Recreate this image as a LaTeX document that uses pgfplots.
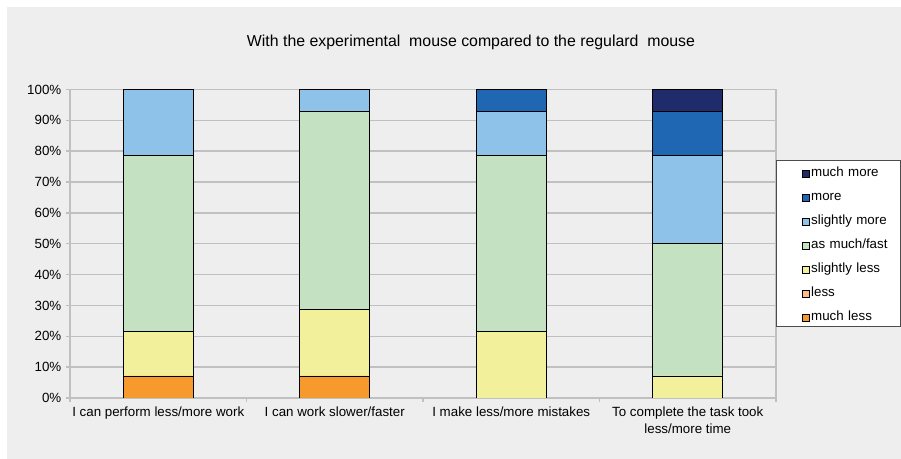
\documentclass[border=0pt]{standalone}
\usepackage{pgfplots}
\pgfplotsset{compat=1.18}
\usepackage{fontspec}
\setmainfont{Liberation Sans}
\definecolor{bg}{HTML}{EEEEEE}
\definecolor{gridgray}{HTML}{C0C0C0}
\definecolor{muchmore}{HTML}{202B6B}
\definecolor{more}{HTML}{1F66B3}
\definecolor{slmore}{HTML}{8EC2E9}
\definecolor{asmuch}{HTML}{C4E2C2}
\definecolor{slless}{HTML}{F2F09A}
\definecolor{less}{HTML}{F9BE8C}
\definecolor{muchless}{HTML}{F69A2E}
\pgfplotsset{
  mybar/.style={fill=#1, draw=black, line width=0.6pt,
    legend image code/.code={\path[draw=none,fill=none] (0pt,0pt) -- (25.2pt,0pt); \draw[fill=#1, draw=black, line width=0.4pt] (18.5pt,-4.35pt) rectangle (23.7pt,0.85pt);}}
}
\begin{document}
\begin{tikzpicture}
\useasboundingbox (0pt,0pt) rectangle (675.75pt,344.25pt);
\fill[white] (-5pt,-5pt) rectangle (680pt,350pt);
\fill[bg] (5.25pt,-5pt) rectangle (680pt,339pt);
\node[font=\fontsize{11.9}{13.5}\selectfont] at (353.25pt,312.75pt) {With the experimental\ \ mouse\ compared to the regulard\ \ mouse};
\begin{axis}[
  at={(52.5pt,45.75pt)}, anchor=south west,
  scale only axis, width=529.5pt, height=231.4pt,
  ybar stacked, bar width=52.5pt,
  xmin=-0.5, xmax=3.5, ymin=0, ymax=100,
  xtick={0,1,2,3},
  xticklabels={I can perform less/more work, I can work slower/faster, I make less/more mistakes, {To complete the task took\\less/more time}},
  xticklabel style={align=center, font=\fontsize{10}{12.5}\selectfont},
  x tick style={draw=none},
  minor xtick={-0.5,0.5,1.5,2.5,3.5},
  minor x tick style={draw=gridgray, line width=1pt},
  ytick={0,10,...,100},
  yticklabel={\pgfmathprintnumber{\tick}\%},
  yticklabel style={font=\fontsize{10}{12}\selectfont},
  /pgf/number format/assume math mode=true,
  tick align=outside, major tick length=3pt, minor tick length=3pt,
  xtick pos=bottom, ytick pos=left,
  y tick style={draw=gridgray, line width=1pt},
  ymajorgrids, grid style={draw=gridgray, line width=1pt},
  axis line style={draw=gridgray, line width=1pt},
  axis background/.style={fill=bg},
  reverse legend,
  legend cell align=left,
  legend style={at={(1,0.7715)}, anchor=north west, draw=black!70, fill=white,
    font=\fontsize{10}{12}\selectfont, row sep=5.3pt, inner xsep=1pt, inner ysep=1.75pt,
    nodes={inner sep=0pt, text height=10.7pt, text depth=2pt},
    /tikz/every even column/.style={text width=65.8pt}},
]
\addplot[mybar=muchless] coordinates {(0,7.14) (1,7.14) (2,0) (3,0)};
\addlegendentry{much less}
\addplot[mybar=less] coordinates {(0,0) (1,0) (2,0) (3,0)};
\addlegendentry{less}
\addplot[mybar=slless] coordinates {(0,14.29) (1,21.43) (2,21.43) (3,7.14)};
\addlegendentry{slightly less}
\addplot[mybar=asmuch] coordinates {(0,57.14) (1,64.29) (2,57.14) (3,42.86)};
\addlegendentry{as much/fast}
\addplot[mybar=slmore] coordinates {(0,21.43) (1,7.14) (2,14.29) (3,28.57)};
\addlegendentry{slightly more}
\addplot[mybar=more] coordinates {(0,0) (1,0) (2,7.14) (3,14.29)};
\addlegendentry{more}
\addplot[mybar=muchmore] coordinates {(0,0) (1,0) (2,0) (3,7.14)};
\addlegendentry{much more}
\end{axis}
\end{tikzpicture}
\end{document}
